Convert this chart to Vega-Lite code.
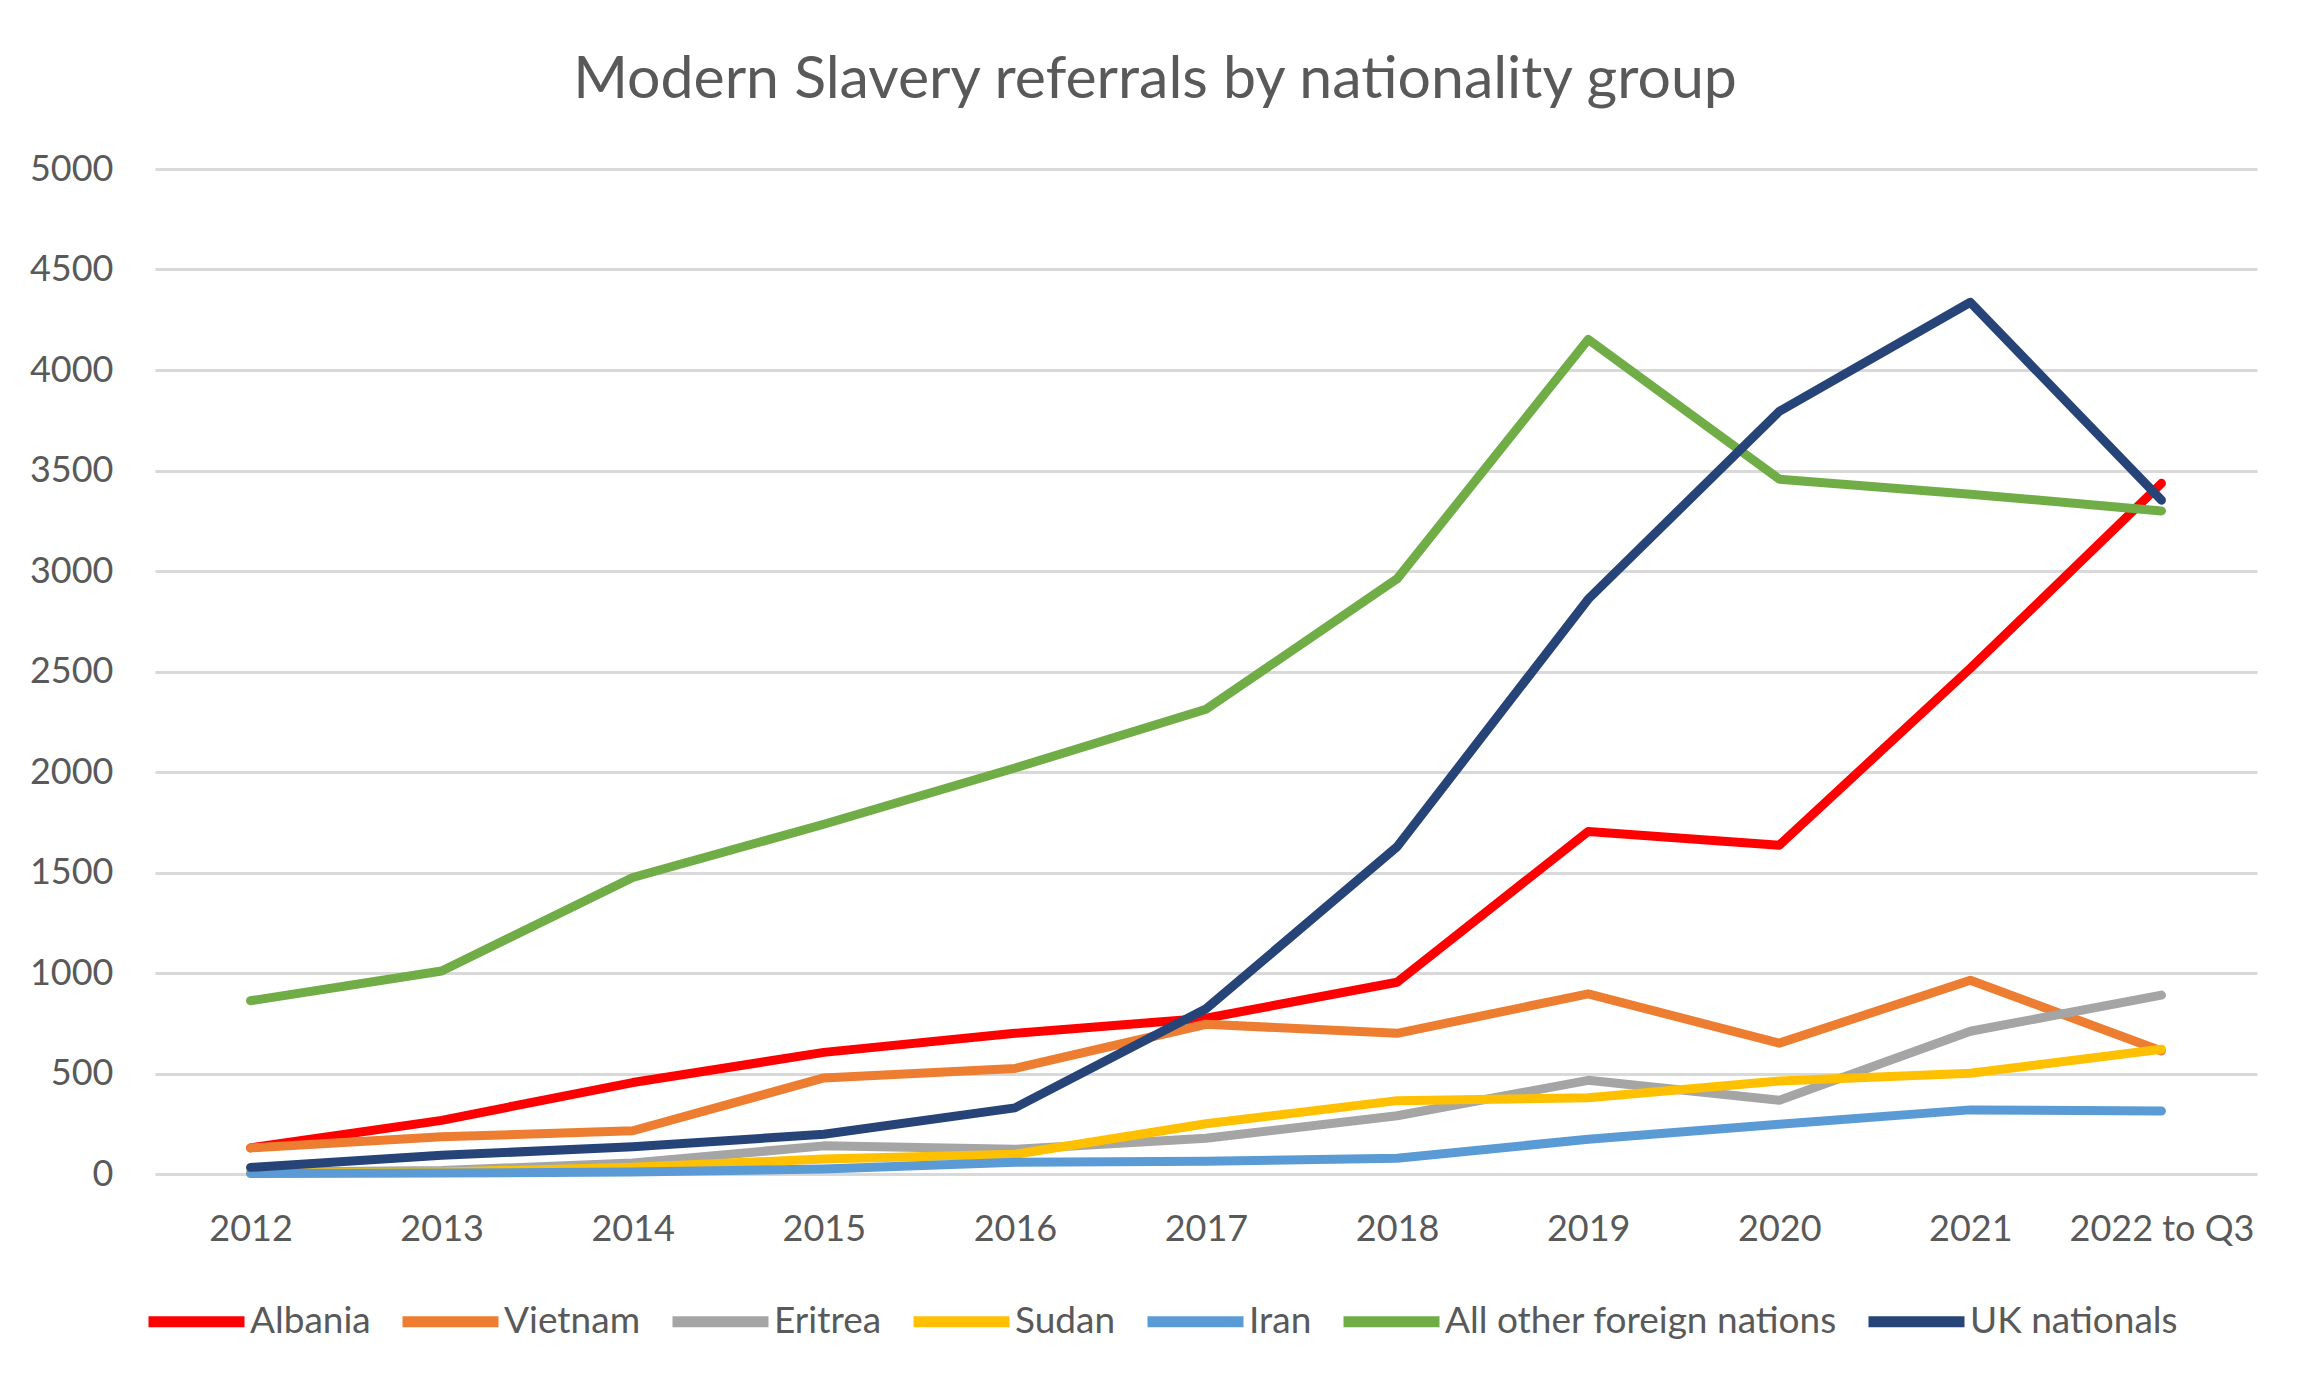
{
  "$schema": "https://vega.github.io/schema/vega-lite/v6.json",
  "autosize": "none",
  "padding": {"left": 155, "top": 169, "right": 53, "bottom": 214},
  "width": 2102,
  "height": 1005,
  "background": "white",
  "title": {
    "text": "Modern Slavery referrals by nationality group",
    "font": "Lato",
    "fontSize": 59,
    "fontWeight": "normal",
    "color": "#595959",
    "anchor": "middle",
    "frame": "group",
    "dx": -51,
    "offset": 41
  },
  "data": {
    "values": [
      {"year": "2012", "group": "Albania", "value": 130},
      {"year": "2013", "group": "Albania", "value": 267},
      {"year": "2014", "group": "Albania", "value": 455},
      {"year": "2015", "group": "Albania", "value": 605},
      {"year": "2016", "group": "Albania", "value": 700},
      {"year": "2017", "group": "Albania", "value": 775},
      {"year": "2018", "group": "Albania", "value": 954},
      {"year": "2019", "group": "Albania", "value": 1704},
      {"year": "2020", "group": "Albania", "value": 1636},
      {"year": "2021", "group": "Albania", "value": 2516},
      {"year": "2022 to Q3", "group": "Albania", "value": 3436},
      {"year": "2012", "group": "Vietnam", "value": 130},
      {"year": "2013", "group": "Vietnam", "value": 185},
      {"year": "2014", "group": "Vietnam", "value": 215},
      {"year": "2015", "group": "Vietnam", "value": 478},
      {"year": "2016", "group": "Vietnam", "value": 525},
      {"year": "2017", "group": "Vietnam", "value": 745},
      {"year": "2018", "group": "Vietnam", "value": 700},
      {"year": "2019", "group": "Vietnam", "value": 896},
      {"year": "2020", "group": "Vietnam", "value": 651},
      {"year": "2021", "group": "Vietnam", "value": 964},
      {"year": "2022 to Q3", "group": "Vietnam", "value": 612},
      {"year": "2012", "group": "Eritrea", "value": 8},
      {"year": "2013", "group": "Eritrea", "value": 17},
      {"year": "2014", "group": "Eritrea", "value": 55},
      {"year": "2015", "group": "Eritrea", "value": 140},
      {"year": "2016", "group": "Eritrea", "value": 123},
      {"year": "2017", "group": "Eritrea", "value": 178},
      {"year": "2018", "group": "Eritrea", "value": 290},
      {"year": "2019", "group": "Eritrea", "value": 466},
      {"year": "2020", "group": "Eritrea", "value": 367},
      {"year": "2021", "group": "Eritrea", "value": 710},
      {"year": "2022 to Q3", "group": "Eritrea", "value": 890},
      {"year": "2012", "group": "Sudan", "value": 5},
      {"year": "2013", "group": "Sudan", "value": 10},
      {"year": "2014", "group": "Sudan", "value": 33},
      {"year": "2015", "group": "Sudan", "value": 75},
      {"year": "2016", "group": "Sudan", "value": 98},
      {"year": "2017", "group": "Sudan", "value": 250},
      {"year": "2018", "group": "Sudan", "value": 365},
      {"year": "2019", "group": "Sudan", "value": 379},
      {"year": "2020", "group": "Sudan", "value": 463},
      {"year": "2021", "group": "Sudan", "value": 501},
      {"year": "2022 to Q3", "group": "Sudan", "value": 621},
      {"year": "2012", "group": "Iran", "value": 2},
      {"year": "2013", "group": "Iran", "value": 5},
      {"year": "2014", "group": "Iran", "value": 10},
      {"year": "2015", "group": "Iran", "value": 25},
      {"year": "2016", "group": "Iran", "value": 58},
      {"year": "2017", "group": "Iran", "value": 63},
      {"year": "2018", "group": "Iran", "value": 78},
      {"year": "2019", "group": "Iran", "value": 173},
      {"year": "2020", "group": "Iran", "value": 248},
      {"year": "2021", "group": "Iran", "value": 319},
      {"year": "2022 to Q3", "group": "Iran", "value": 313},
      {"year": "2012", "group": "All other foreign nations", "value": 862},
      {"year": "2013", "group": "All other foreign nations", "value": 1010},
      {"year": "2014", "group": "All other foreign nations", "value": 1475},
      {"year": "2015", "group": "All other foreign nations", "value": 1740},
      {"year": "2016", "group": "All other foreign nations", "value": 2020},
      {"year": "2017", "group": "All other foreign nations", "value": 2312},
      {"year": "2018", "group": "All other foreign nations", "value": 2961},
      {"year": "2019", "group": "All other foreign nations", "value": 4152},
      {"year": "2020", "group": "All other foreign nations", "value": 3457},
      {"year": "2021", "group": "All other foreign nations", "value": 3382},
      {"year": "2022 to Q3", "group": "All other foreign nations", "value": 3299},
      {"year": "2012", "group": "UK nationals", "value": 33},
      {"year": "2013", "group": "UK nationals", "value": 93},
      {"year": "2014", "group": "UK nationals", "value": 135},
      {"year": "2015", "group": "UK nationals", "value": 198},
      {"year": "2016", "group": "UK nationals", "value": 329},
      {"year": "2017", "group": "UK nationals", "value": 822},
      {"year": "2018", "group": "UK nationals", "value": 1628},
      {"year": "2019", "group": "UK nationals", "value": 2860},
      {"year": "2020", "group": "UK nationals", "value": 3794},
      {"year": "2021", "group": "UK nationals", "value": 4337},
      {"year": "2022 to Q3", "group": "UK nationals", "value": 3352}
    ]
  },
  "mark": {"type": "line", "strokeWidth": 9, "strokeCap": "round", "strokeJoin": "round"},
  "encoding": {
    "x": {
      "field": "year",
      "type": "ordinal",
      "sort": null,
      "scale": {"type": "point", "padding": 0.5},
      "axis": {
        "title": null,
        "labelAngle": 0,
        "domain": false,
        "ticks": false,
        "grid": false,
        "labelFont": "Lato",
        "labelFontSize": 36,
        "labelColor": "#595959",
        "labelPadding": 38,
        "labelLimit": 1000
      }
    },
    "y": {
      "field": "value",
      "type": "quantitative",
      "scale": {"domain": [0, 5000], "nice": false},
      "axis": {
        "title": null,
        "values": [0, 500, 1000, 1500, 2000, 2500, 3000, 3500, 4000, 4500, 5000],
        "format": "d",
        "domain": false,
        "ticks": false,
        "grid": true,
        "gridColor": "#D9D9D9",
        "gridWidth": 3,
        "labelFont": "Lato",
        "labelFontSize": 36,
        "labelColor": "#595959",
        "labelPadding": 42
      }
    },
    "color": {
      "field": "group",
      "type": "nominal",
      "scale": {
        "domain": ["Albania", "Vietnam", "Eritrea", "Sudan", "Iran", "All other foreign nations", "UK nationals"],
        "range": ["#FF0000", "#ED7D31", "#A5A5A5", "#FFC000", "#5B9BD5", "#70AD47", "#264478"]
      },
      "legend": {
        "title": null,
        "orient": "none",
        "direction": "horizontal",
        "legendX": -12,
        "legendY": 1099,
        "symbolType": "stroke",
        "symbolSize": 9216,
        "symbolStrokeWidth": 11,
        "labelFont": "Lato",
        "labelFontSize": 37,
        "labelColor": "#595959",
        "labelOffset": 0,
        "columnPadding": 9,
        "labelLimit": 1000
      }
    },
    "order": {"field": "group"}
  },
  "config": {
    "view": {"stroke": null}
  }
}
